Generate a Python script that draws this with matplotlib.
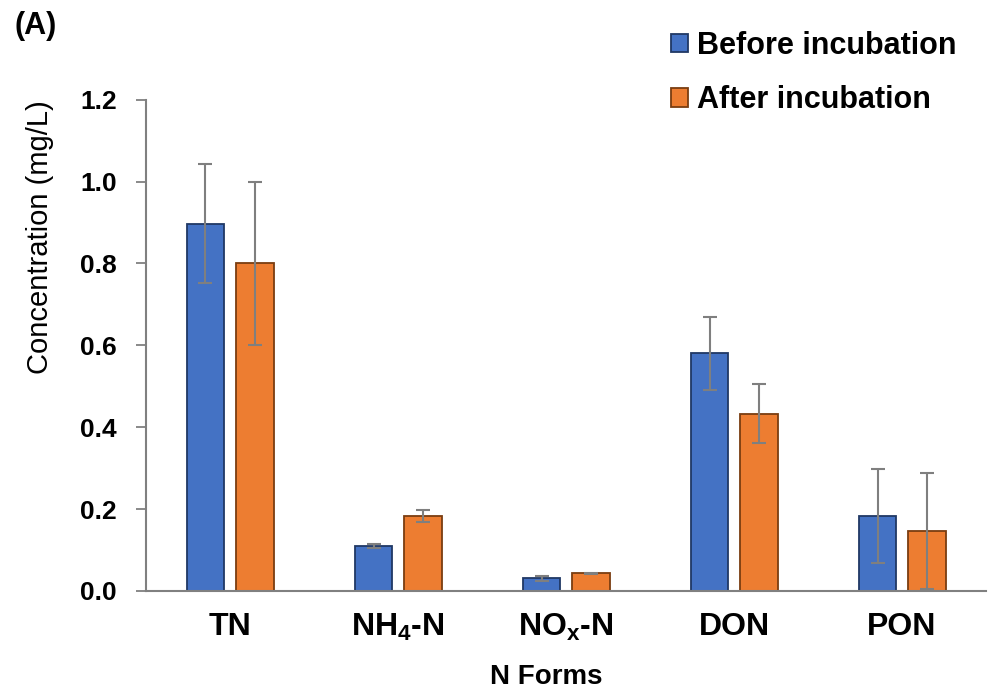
import numpy as np
import matplotlib.pyplot as plt

plt.rcParams['font.family'] = ['Liberation Sans', 'DejaVu Sans']
plt.rcParams['mathtext.fontset'] = 'custom'
plt.rcParams['mathtext.rm'] = 'Liberation Sans:bold'
plt.rcParams['mathtext.bf'] = 'Liberation Sans:bold'
plt.rcParams['mathtext.default'] = 'bf'

categories = ['TN', 'NH$_4$-N', 'NO$_x$-N', 'DON', 'PON']
before = [0.897, 0.110, 0.031, 0.581, 0.183]
before_err = [0.145, 0.005, 0.006, 0.089, 0.114]
after = [0.800, 0.184, 0.043, 0.433, 0.147]
after_err = [0.200, 0.015, 0.002, 0.072, 0.142]

fig = plt.figure(figsize=(9.9, 6.98), dpi=100)
ax = fig.add_axes([0.1475, 0.1533, 0.8485, 0.704])

x = np.arange(len(categories))
w = 0.226
off = 0.146
errkw = dict(ecolor='#7f7f7f', elinewidth=1.5, capsize=5, capthick=1.5)
b1 = ax.bar(x - off, before, w, yerr=before_err, color='#4472C4',
            edgecolor='#203864', linewidth=1.3, error_kw=errkw, label='Before incubation')
b2 = ax.bar(x + off, after, w, yerr=after_err, color='#ED7D31',
            edgecolor='#7a3d10', linewidth=1.3, error_kw=errkw, label='After incubation')

ax.set_xlim(-0.5, 4.5)
ax.set_ylim(0, 1.2)
ax.set_yticks(np.arange(0, 1.21, 0.2))
ax.set_yticklabels([f'{v:.1f}' for v in np.arange(0, 1.21, 0.2)], fontsize=19, fontweight='bold')
ax.set_xticks(x)
ax.set_xticklabels(categories, fontsize=23, fontweight='bold')
ax.tick_params(axis='x', length=0, pad=15)
ax.tick_params(axis='y', length=7, width=1.3, color='#808080', pad=14)
for s in ['top', 'right']:
    ax.spines[s].set_visible(False)
for s in ['left', 'bottom']:
    ax.spines[s].set_color('#808080')
    ax.spines[s].set_linewidth(1.5)

ax.set_ylabel('Concentration (mg/L)', fontsize=21, fontweight='medium')
ax.yaxis.set_label_coords(54 / 990, 1 - 237 / 698, transform=fig.transFigure)
ax.set_xlabel('N Forms', fontsize=20, fontweight='bold')
ax.xaxis.set_label_coords(546 / 990, 1 - 664 / 698, transform=fig.transFigure)

fig.text(15 / 990, 1 - 26 / 698, '(A)', fontsize=22, fontweight='bold', va='center')

fig.legend(handles=[b1, b2], loc='upper left', bbox_to_anchor=(671 / 990, 1 - 31 / 698),
           frameon=False, prop={'size': 22, 'weight': 'bold'}, borderpad=0, borderaxespad=0,
           handlelength=0.55, handleheight=0.55, handletextpad=0.3, labelspacing=0.8)

fig.savefig('out.png', dpi=100)
